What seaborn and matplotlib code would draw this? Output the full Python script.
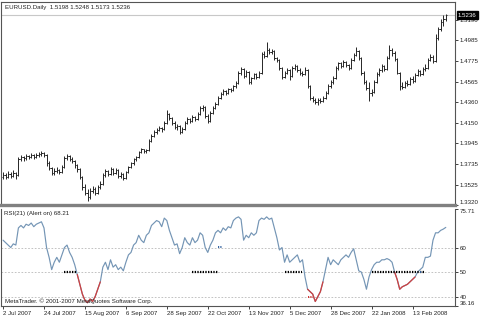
import matplotlib
matplotlib.use("Agg")
import matplotlib.pyplot as plt
import seaborn as sns
import numpy as np
import pandas as pd

# ---------------- data ----------------
date_labels = ["2 Jul 2007", "24 Jul 2007", "15 Aug 2007", "6 Sep 2007", "28 Sep 2007",
               "22 Oct 2007", "13 Nov 2007", "5 Dec 2007", "28 Dec 2007", "22 Jan 2008",
               "13 Feb 2008"]
date_pos = [0, 16, 32, 48, 64, 80, 96, 112, 128, 144, 160]

opens = [1.3600,1.3620,1.3605,1.3630,1.3615,1.3640,1.3625,1.3780,1.3800,1.3790,
         1.3810,1.3805,1.3820,1.3800,1.3825,1.3830,1.3845,1.3820,1.3740,1.3690,
         1.3640,1.3660,1.3670,1.3650,1.3700,1.3790,1.3810,1.3780,1.3760,1.3720,
         1.3680,1.3600,1.3500,1.3440,1.3400,1.3460,1.3480,1.3440,1.3500,1.3530,
         1.3620,1.3660,1.3630,1.3680,1.3640,1.3670,1.3610,1.3630,1.3590,1.3650,
         1.3700,1.3740,1.3780,1.3800,1.3850,1.3880,1.3860,1.3870,1.3970,1.4020,
         1.4060,1.4080,1.4100,1.4090,1.4150,1.4240,1.4200,1.4150,1.4110,1.4120,
         1.4060,1.4090,1.4150,1.4190,1.4170,1.4210,1.4190,1.4240,1.4300,1.4310,
         1.4220,1.4170,1.4250,1.4300,1.4340,1.4400,1.4440,1.4470,1.4450,1.4490,
         1.4480,1.4520,1.4550,1.4650,1.4690,1.4620,1.4660,1.4560,1.4600,1.4640,
         1.4610,1.4650,1.4840,1.4820,1.4880,1.4860,1.4870,1.4800,1.4780,1.4700,
         1.4610,1.4650,1.4680,1.4620,1.4700,1.4720,1.4680,1.4650,1.4640,1.4680,
         1.4520,1.4400,1.4380,1.4360,1.4380,1.4370,1.4400,1.4450,1.4520,1.4560,
         1.4600,1.4700,1.4750,1.4720,1.4760,1.4730,1.4700,1.4780,1.4830,1.4870,
         1.4800,1.4650,1.4560,1.4500,1.4450,1.4460,1.4560,1.4640,1.4680,1.4720,
         1.4690,1.4800,1.4880,1.4850,1.4790,1.4650,1.4520,1.4510,1.4550,1.4540,
         1.4590,1.4570,1.4630,1.4670,1.4640,1.4690,1.4700,1.4780,1.4810,1.4770,
         1.5000,1.5100,1.5170,1.5198]

highs = [1.3650,1.3640,1.3660,1.3650,1.3670,1.3655,1.3800,1.3825,1.3815,1.3830,
         1.3825,1.3840,1.3835,1.3845,1.3850,1.3860,1.3850,1.3830,1.3760,1.3700,
         1.3690,1.3700,1.3685,1.3720,1.3810,1.3830,1.3820,1.3800,1.3770,1.3735,
         1.3690,1.3610,1.3530,1.3480,1.3490,1.3510,1.3500,1.3520,1.3560,1.3640,
         1.3680,1.3670,1.3700,1.3690,1.3690,1.3680,1.3650,1.3640,1.3665,1.3715,
         1.3755,1.3790,1.3810,1.3860,1.3895,1.3890,1.3885,1.3990,1.4035,1.4075,
         1.4095,1.4115,1.4110,1.4165,1.4280,1.4250,1.4210,1.4165,1.4140,1.4125,
         1.4110,1.4165,1.4205,1.4200,1.4225,1.4220,1.4255,1.4320,1.4330,1.4320,
         1.4240,1.4265,1.4315,1.4355,1.4415,1.4460,1.4490,1.4480,1.4505,1.4500,
         1.4535,1.4570,1.4670,1.4710,1.4700,1.4680,1.4670,1.4615,1.4655,1.4650,
         1.4670,1.4860,1.4870,1.4960,1.4900,1.4890,1.4880,1.4810,1.4790,1.4710,
         1.4670,1.4700,1.4690,1.4720,1.4740,1.4730,1.4700,1.4670,1.4710,1.4690,
         1.4530,1.4420,1.4400,1.4400,1.4395,1.4420,1.4470,1.4540,1.4580,1.4620,
         1.4720,1.4760,1.4760,1.4780,1.4770,1.4740,1.4800,1.4850,1.4910,1.4880,
         1.4810,1.4670,1.4580,1.4560,1.4490,1.4580,1.4660,1.4700,1.4740,1.4730,
         1.4820,1.4930,1.4900,1.4870,1.4800,1.4660,1.4560,1.4570,1.4580,1.4610,
         1.4620,1.4650,1.4690,1.4680,1.4710,1.4740,1.4800,1.4840,1.4830,1.5050,
         1.5120,1.5200,1.5240,1.5248]

lows = [1.3580,1.3585,1.3595,1.3590,1.3600,1.3580,1.3615,1.3760,1.3765,1.3775,
        1.3780,1.3790,1.3780,1.3790,1.3805,1.3815,1.3800,1.3710,1.3670,1.3620,
        1.3625,1.3640,1.3630,1.3640,1.3690,1.3770,1.3760,1.3740,1.3690,1.3650,
        1.3580,1.3470,1.3420,1.3360,1.3385,1.3440,1.3420,1.3430,1.3480,1.3520,
        1.3600,1.3610,1.3620,1.3620,1.3630,1.3590,1.3595,1.3570,1.3580,1.3640,
        1.3690,1.3725,1.3760,1.3790,1.3840,1.3840,1.3845,1.3860,1.3960,1.4005,
        1.4040,1.4065,1.4060,1.4080,1.4140,1.4180,1.4130,1.4090,1.4080,1.4040,
        1.4050,1.4080,1.4140,1.4150,1.4160,1.4170,1.4180,1.4230,1.4270,1.4200,
        1.4150,1.4160,1.4240,1.4290,1.4330,1.4390,1.4425,1.4430,1.4440,1.4460,
        1.4470,1.4505,1.4540,1.4630,1.4600,1.4610,1.4540,1.4545,1.4590,1.4590,
        1.4600,1.4640,1.4800,1.4810,1.4840,1.4840,1.4780,1.4760,1.4680,1.4590,
        1.4600,1.4640,1.4580,1.4610,1.4680,1.4660,1.4630,1.4620,1.4630,1.4500,
        1.4380,1.4360,1.4340,1.4330,1.4350,1.4360,1.4390,1.4440,1.4500,1.4540,
        1.4590,1.4680,1.4700,1.4710,1.4710,1.4680,1.4690,1.4770,1.4820,1.4780,
        1.4630,1.4540,1.4480,1.4370,1.4420,1.4450,1.4550,1.4620,1.4660,1.4670,
        1.4680,1.4790,1.4820,1.4770,1.4640,1.4480,1.4490,1.4500,1.4520,1.4530,
        1.4550,1.4560,1.4620,1.4620,1.4630,1.4670,1.4690,1.4770,1.4750,1.4760,
        1.4980,1.5080,1.5130,1.5173]

closes = [1.3620,1.3605,1.3630,1.3615,1.3640,1.3625,1.3780,1.3800,1.3790,1.3810,
          1.3805,1.3820,1.3800,1.3825,1.3830,1.3845,1.3820,1.3740,1.3690,1.3640,
          1.3660,1.3670,1.3650,1.3700,1.3790,1.3810,1.3780,1.3760,1.3720,1.3680,
          1.3600,1.3500,1.3440,1.3400,1.3460,1.3480,1.3440,1.3500,1.3530,1.3620,
          1.3660,1.3630,1.3680,1.3640,1.3670,1.3610,1.3630,1.3590,1.3650,1.3700,
          1.3740,1.3780,1.3800,1.3850,1.3880,1.3860,1.3870,1.3970,1.4020,1.4060,
          1.4080,1.4100,1.4090,1.4150,1.4240,1.4200,1.4150,1.4110,1.4120,1.4060,
          1.4090,1.4150,1.4190,1.4170,1.4210,1.4190,1.4240,1.4300,1.4310,1.4220,
          1.4170,1.4250,1.4300,1.4340,1.4400,1.4440,1.4470,1.4450,1.4490,1.4480,
          1.4520,1.4550,1.4650,1.4690,1.4620,1.4660,1.4560,1.4600,1.4640,1.4610,
          1.4650,1.4840,1.4820,1.4880,1.4860,1.4870,1.4800,1.4780,1.4700,1.4610,
          1.4650,1.4680,1.4620,1.4700,1.4720,1.4680,1.4650,1.4640,1.4680,1.4520,
          1.4400,1.4380,1.4360,1.4380,1.4370,1.4400,1.4450,1.4520,1.4560,1.4600,
          1.4700,1.4750,1.4720,1.4760,1.4730,1.4700,1.4780,1.4830,1.4870,1.4800,
          1.4650,1.4560,1.4500,1.4450,1.4460,1.4560,1.4640,1.4680,1.4720,1.4690,
          1.4800,1.4880,1.4850,1.4790,1.4650,1.4520,1.4510,1.4550,1.4540,1.4590,
          1.4570,1.4630,1.4670,1.4640,1.4690,1.4700,1.4780,1.4810,1.4770,1.5000,
          1.5100,1.5170,1.5198,1.5236]

rsi = [63,62,61,60,61.5,61,68,69,68,69.5,
       69,70,68.5,69.5,70,70.5,68,60,56,51,
       54,56,54,57,60,61,58,56,53,49,
       45,41,38.5,37.5,39,38,40,43,46,52,
       54,51,55,52,53,51,52,50.5,54,57,
       58,61,62,65,63,62,65,66,69,70,
       71,70.5,68.5,72,71,67,64,61,61.5,57.5,
       60,64,62,61,64,62,63,66,65,60,
       58,61,63,66,67,66,68,67,68.5,68,
       71,72,72.5,71.5,63,65,64,66,65,66,
       71,72,71.5,72.5,71.5,72,68,64,59,60,
       54,57,54,55,56,57,54,55,48,43,
       42,41,38,40,42,46,51,56,53,55,
       54,53,55,56,57,56,58,59.5,55,50.5,
       50,47,43,48,51,53,54,54,55,55,
       55.5,55,54,50,47,43,44,44.5,45,46,
       47,48,50,51,52,56,56,56.5,63,66,
       66,67,67.5,68.21]

red_ranges = [(29, 38), (119, 125), (153, 161)]          # RSI alert (red) stretches
alert_marks = [(24, 29, 50), (74, 84, 50), (110, 117, 50), (144, 165, 50)]
blue_marks = [(84, 85.5, 60.3), (163, 163.8, 50.2)]
red_marks = [(119.3, 121, 40)]

price_ticks = [1.3320, 1.3525, 1.3735, 1.3945, 1.4150, 1.4360, 1.4565, 1.4775, 1.4985, 1.5190]
rsi_ticks = [75.71, 60, 50, 40, 36.16]
rsi_tick_labels = ["75.71", "60", "50", "40", "36.16"]
bid = 1.5236
rsi_min, rsi_max = 36.16, 75.71
price_min, price_max = 1.3320, 1.5368

df = pd.DataFrame({"bar": np.arange(len(closes)), "open": opens, "high": highs,
                   "low": lows, "close": closes, "rsi": rsi})

# ---------------- figure ----------------
sns.set_style("white")
plt.rcParams["font.family"] = ["Liberation Sans", "DejaVu Sans"]
FS = 4.4
W, H = 480, 320
fig = plt.figure(figsize=(4.8, 3.2), dpi=100)
fig.patch.set_facecolor("white")

def fx(px):
    return px / W

def fy(py):
    return 1 - py / H

xl = (-0.8, 176.6)
ax1 = fig.add_axes([fx(1), fy(205), fx(454), 203 / H])
ax2 = fig.add_axes([fx(1), fy(306), fx(454), 97 / H])

bar_col = "#262626"
# OHLC bars
ax1.vlines(df["bar"], df["low"], df["high"], color=bar_col, lw=0.7)
ax1.hlines(df["open"], df["bar"] - 0.5, df["bar"], color=bar_col, lw=0.7)
ax1.hlines(df["close"], df["bar"], df["bar"] + 0.5, color=bar_col, lw=0.7)
ax1.axhline(bid, color="#c8c8c8", lw=0.8, zorder=0)
ax1.set_xlim(*xl)
ax1.set_ylim(price_min, price_max)
ax1.set_xticks([])
ax1.yaxis.tick_right()
ax1.set_yticks(price_ticks)
ax1.set_yticklabels([f"{t:.4f}" for t in price_ticks])
ax1.tick_params(axis="y", length=2, width=0.6, pad=1.5, labelsize=FS, colors="#222222", right=True)
ax1.get_yticklabels()[0].set_va("bottom")
for s in ["top", "left", "right"]:
    ax1.spines[s].set_color("#555555")
    ax1.spines[s].set_linewidth(0.8)
ax1.spines["bottom"].set_color("#808080")
ax1.spines["bottom"].set_linewidth(2.4)
ax1.annotate("1.5236", xy=(1.0, bid), xycoords=("axes fraction", "data"),
             xytext=(2.2, 0), textcoords="offset points", va="center", ha="left",
             fontsize=FS, color="white", zorder=10, annotation_clip=False,
             bbox=dict(boxstyle="square,pad=0.2", fc="black", ec="black"))

# RSI
sns.lineplot(data=df, x="bar", y="rsi", ax=ax2, color="#7495b5", lw=0.85)
for a, b in red_ranges:
    sub = df[(df["bar"] >= a) & (df["bar"] <= b)]
    sns.lineplot(data=sub, x="bar", y="rsi", ax=ax2, color="#cf4040", lw=0.9)
for lvl in [60, 50, 40]:
    ax2.axhline(lvl, color="#b8b8b8", lw=0.6, ls=(0, (2, 2)), zorder=0)
for a, b, lvl in alert_marks:
    ax2.hlines(lvl, a, b, color="black", lw=1.6, linestyles=(0, (0.6, 0.6)), zorder=5)
for a, b, lvl in blue_marks:
    ax2.hlines(lvl, a, b, color="#3060a0", lw=1.4, linestyles=(0, (0.6, 0.6)), zorder=5)
for a, b, lvl in red_marks:
    ax2.hlines(lvl, a, b, color="#d03030", lw=1.4, linestyles=(0, (0.6, 0.6)), zorder=5)
ax2.set_xlim(*xl)
ax2.set_ylim(rsi_min, rsi_max)
ax2.set_xlabel("")
ax2.set_ylabel("")
ax2.yaxis.tick_right()
ax2.set_yticks(rsi_ticks)
ax2.set_yticklabels(rsi_tick_labels)
ax2.tick_params(axis="y", length=2, width=0.6, pad=1.5, labelsize=FS, colors="#222222", right=True)
ylabs = ax2.get_yticklabels()
ylabs[0].set_va("top")
ylabs[-1].set_va("bottom")
ax2.set_xticks(date_pos)
ax2.set_xticklabels(date_labels, ha="left")
ax2.tick_params(axis="x", length=2, width=0.6, pad=1.5, labelsize=FS, colors="#222222", bottom=True)
for s in ax2.spines.values():
    s.set_color("#555555")
    s.set_linewidth(0.8)
ax2.spines["top"].set_visible(False)

# texts
fig.text(fx(5), fy(7.5), "EURUSD.Daily  1.5198 1.5248 1.5173 1.5236", fontsize=FS,
         va="center", ha="left", color="#222222")
fig.text(fx(4), fy(214), "RSI(21) (Alert on) 68.21", fontsize=FS,
         va="center", ha="left", color="#222222")
fig.text(fx(5), fy(301.5), "MetaTrader. \u00a9 2001-2007 MetaQuotes Software Corp.", fontsize=FS,
         va="center", ha="left", color="#222222")

fig.savefig("out.png", dpi=100)
